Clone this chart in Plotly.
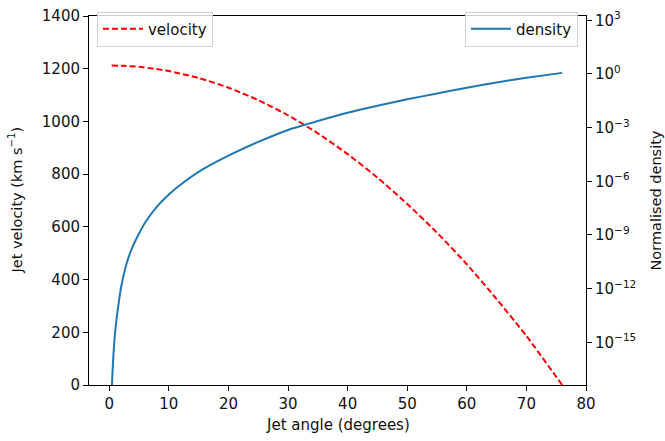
import plotly.graph_objects as go

# Velocity readings (degrees, km/s)
vel_angle = [0.4, 2.5, 5, 7.5, 10, 15, 20, 25, 30, 35, 40, 45, 50, 55, 60, 65, 70, 76]
vel_value = [1212, 1211, 1207, 1200, 1191, 1165, 1128, 1081, 1023, 955, 876, 787, 687, 578, 458, 326, 186, 0]

# Density readings (degrees, log10 of normalised density)
den_angle = [0.3, 0.5, 0.7, 1.0, 1.5, 2.0, 3.0, 4.0, 5.0, 6.0, 8.0, 10.0, 12.0, 15.0,
             20.0, 25.0, 30.0, 35.0, 40.0, 45.0, 50.0, 55.0, 60.0, 65.0, 70.0, 76.0]
den_log = [-19.0, -17.0, -15.7, -14.4, -13.0, -11.9, -10.5, -9.6, -8.92, -8.32, -7.42, -6.74,
           -6.18, -5.47, -4.57, -3.80, -3.13, -2.63, -2.17, -1.78, -1.42, -1.09, -0.77, -0.48,
           -0.21, 0.06]
den_value = [10 ** v for v in den_log]

left_ticks = [0, 200, 400, 600, 800, 1000, 1200, 1400]
x_ticks = [0, 10, 20, 30, 40, 50, 60, 70, 80]
right_exps = [3, 0, -3, -6, -9, -12, -15]

FONT = "DejaVu Sans"
fig = go.Figure()
fig.add_trace(go.Scatter(x=vel_angle, y=vel_value, mode="lines", name="velocity",
                         line=dict(color="#ff0000", width=2, dash="6px,3px", shape="spline",
                                   smoothing=0.6),
                         legend="legend", yaxis="y"))
fig.add_trace(go.Scatter(x=den_angle, y=den_value, mode="lines", name="density",
                         line=dict(color="#1f77b4", width=2, shape="spline", smoothing=0.5),
                         legend="legend2", yaxis="y2"))

axis_common = dict(showgrid=False, zeroline=False, ticks="outside", ticklen=5, tickwidth=1,
                   tickcolor="#000", linecolor="#000", linewidth=1, showline=True,
                   automargin=False,
                   tickfont=dict(family=FONT, size=15, color="#111"))

fig.update_layout(
    width=665, height=441,
    margin=dict(l=89, r=79, t=13, b=56),
    paper_bgcolor="white", plot_bgcolor="white",
    font=dict(family=FONT, size=15, color="#111"),
    xaxis=dict(range=[-3.4, 80], tickvals=x_ticks, mirror=True, **axis_common),
    yaxis=dict(range=[0, 1400], tickvals=left_ticks, **axis_common),
    yaxis2=dict(type="log", overlaying="y", side="right", range=[-17.39, 3.24],
                tickvals=[10.0 ** e for e in right_exps],
                ticktext=["10<sup>%s</sup>" % (str(e).replace("-", "−")) for e in right_exps],
                **axis_common),
    legend=dict(x=0.016, y=1.012, xanchor="left", yanchor="top", bgcolor="rgba(255,255,255,0.8)",
                bordercolor="#d0d0d0", borderwidth=1, font=dict(family=FONT, size=15), itemwidth=40),
    legend2=dict(x=0.984, y=1.012, xanchor="right", yanchor="top", bgcolor="rgba(255,255,255,0.8)",
                 bordercolor="#d0d0d0", borderwidth=1, font=dict(family=FONT, size=15), itemwidth=40),
    showlegend=True,
    annotations=[
        dict(text="Jet angle (degrees)", xref="paper", yref="paper", x=0.5, y=-40 / 372,
             xanchor="center", yanchor="middle", showarrow=False, font=dict(size=15)),
        dict(text="Jet velocity (km s<sup>−1</sup>)", xref="paper", yref="paper",
             x=-74 / 497, y=0.5, xanchor="center", yanchor="middle", textangle=-90,
             showarrow=False, font=dict(size=14.5)),
        dict(text="Normalised density", xref="paper", yref="paper",
             x=1 + 69 / 497, y=0.5, xanchor="center", yanchor="middle", textangle=-90,
             showarrow=False, font=dict(size=14.5)),
    ],
)

fig.write_html("out.html")
